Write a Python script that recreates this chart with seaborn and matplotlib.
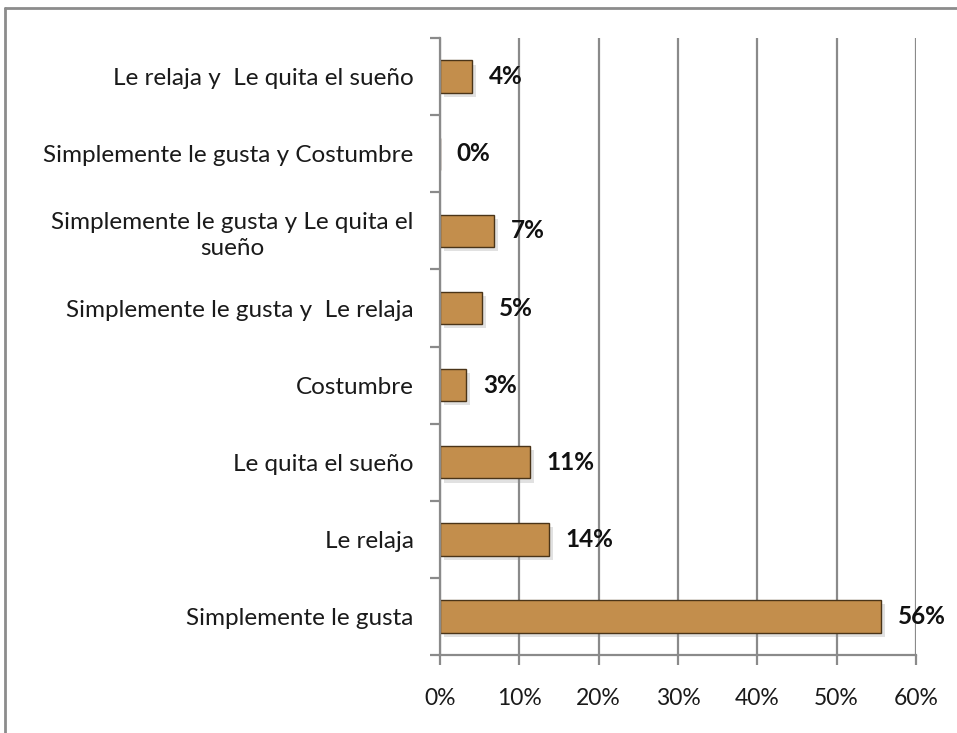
import matplotlib
matplotlib.use("Agg")
import matplotlib.pyplot as plt
import matplotlib.patheffects as pe
from matplotlib.lines import Line2D
from matplotlib.ticker import FixedLocator, PercentFormatter
import seaborn as sns
import pandas as pd

# Reasons, listed top to bottom
categories = [
    "Le relaja y  Le quita el sueño",
    "Simplemente le gusta y Costumbre",
    "Simplemente le gusta y Le quita el\nsueño",
    "Simplemente le gusta y  Le relaja",
    "Costumbre",
    "Le quita el sueño",
    "Le relaja",
    "Simplemente le gusta",
]
shares = [4.0, 0.0, 6.8, 5.3, 3.3, 11.3, 13.7, 55.6]
x_ticks = [0, 10, 20, 30, 40, 50, 60]

df = pd.DataFrame({"motivo": categories, "pct": shares})

sns.set_theme(style="white")
plt.rcParams["font.family"] = ["Lato", "DejaVu Sans"]

fig = plt.figure(figsize=(9.57, 7.33), dpi=100)
ax = fig.add_axes([0.4598, 0.1064, 0.957 - 0.4598, 0.948 - 0.1064])

grid_col = "#8a8a8a"

sns.barplot(data=df, y="motivo", x="pct", order=categories, orient="h",
            color="#C38E4C", edgecolor="#4a3418", linewidth=1.0,
            width=0.42, saturation=1, ax=ax)

for patch in ax.patches:
    patch.set_path_effects([
        pe.SimplePatchShadow(offset=(3, -3), shadow_rgbFace="#8a8a8a", alpha=0.25),
        pe.Normal(),
    ])

ax.set_xlim(0, 60)
ax.set_ylim(len(categories) - 0.5, -0.5)
ax.xaxis.set_major_locator(FixedLocator(x_ticks))
ax.xaxis.set_major_formatter(PercentFormatter(decimals=0))

ax.grid(axis="x", color=grid_col, linewidth=1.6)
ax.grid(axis="y", visible=False)
ax.set_axisbelow(True)

for side in ("top", "right"):
    ax.spines[side].set_visible(False)
for side in ("left", "bottom"):
    ax.spines[side].set_color(grid_col)
    ax.spines[side].set_linewidth(1.6)

ax.tick_params(axis="x", which="major", direction="out", length=7, width=1.6,
               color=grid_col, bottom=True, pad=17, labelsize=16.5, labelcolor="#1a1a1a")
ax.tick_params(axis="y", which="major", length=0, pad=19, labelsize=17.5, labelcolor="#1a1a1a")
ax.yaxis.set_minor_locator(FixedLocator([i - 0.5 for i in range(len(categories) + 1)]))
ax.tick_params(axis="y", which="minor", direction="out", length=7, width=1.6,
               color=grid_col, left=True)
for lab in ax.get_yticklabels():
    lab.set_multialignment("center")
    lab.set_linespacing(1.3)

ax.set_xlabel("")
ax.set_ylabel("")

for i, v in enumerate(shares):
    ax.annotate(f"{round(v):.0f}%", xy=(v, i), xytext=(12, 0), textcoords="offset points",
                ha="left", va="center", fontsize=17.5, fontweight="bold", color="#111111")

# Outer chart frame
frame_kw = dict(color="#8c8c8c", linewidth=2.0, transform=fig.transFigure)
fig.add_artist(Line2D([5 / 957, 5 / 957], [0, 1 - 8 / 733], **frame_kw))
fig.add_artist(Line2D([5 / 957, 1], [1 - 8 / 733, 1 - 8 / 733], **frame_kw))

fig.savefig("out.png", dpi=100)
